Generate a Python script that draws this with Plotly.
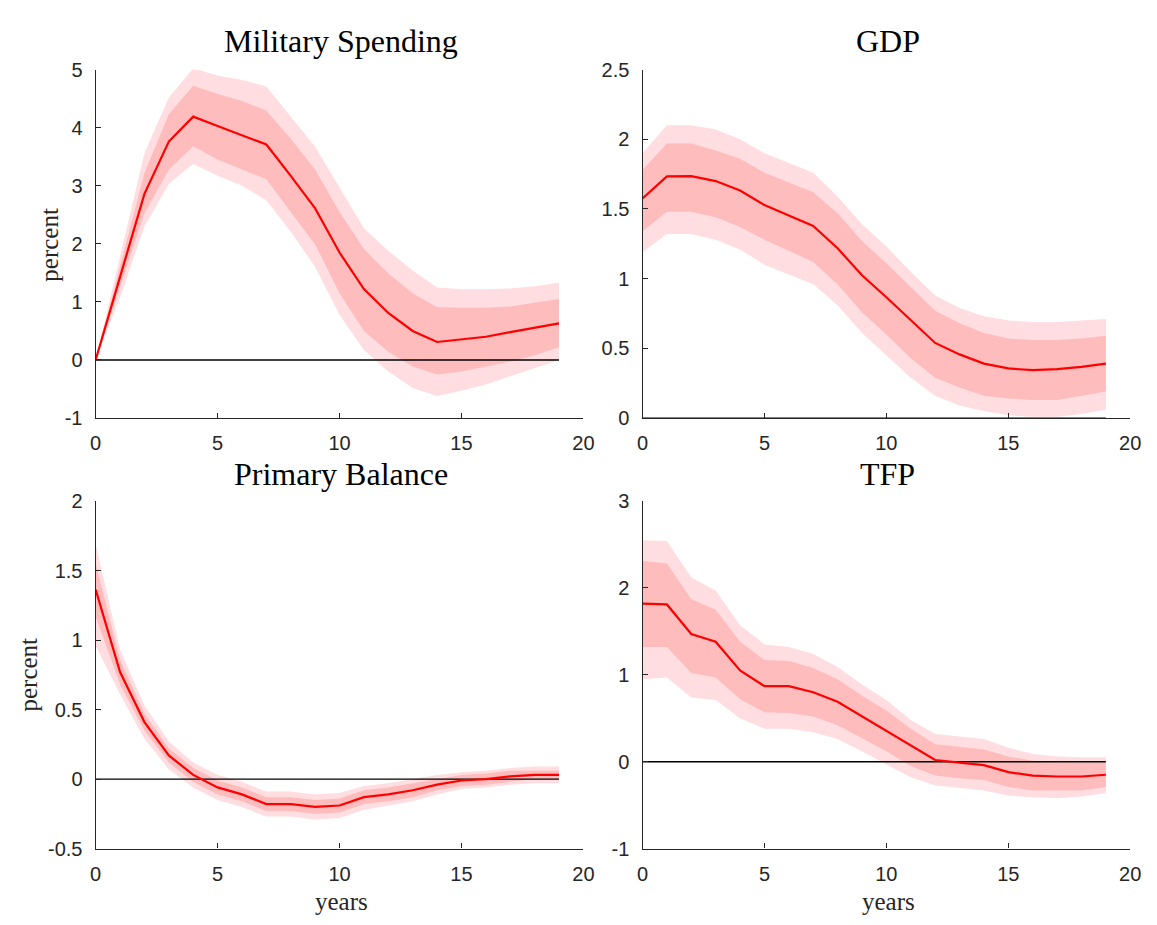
import plotly.graph_objects as go

# ---------------- data ----------------
years = list(range(20))
x_ticks = [0, 5, 10, 15, 20]

# Military Spending
ms_med = [0, 1.43, 2.86, 3.76, 4.19, 4.03, 3.87, 3.71, 3.17, 2.61, 1.85, 1.22, 0.81, 0.50, 0.31, 0.35, 0.40, 0.48, 0.56, 0.63]
ms_in_up = [0, 1.62, 3.22, 4.23, 4.72, 4.58, 4.46, 4.29, 3.81, 3.28, 2.55, 1.91, 1.49, 1.15, 0.91, 0.90, 0.90, 0.92, 0.98, 1.05]
ms_in_lo = [0, 1.25, 2.52, 3.28, 3.68, 3.45, 3.28, 3.11, 2.55, 1.99, 1.15, 0.50, 0.14, -0.11, -0.25, -0.20, -0.11, -0.03, 0.08, 0.22]
ms_out_up = [0, 1.80, 3.56, 4.52, 5.02, 4.90, 4.82, 4.71, 4.20, 3.67, 2.97, 2.27, 1.88, 1.54, 1.25, 1.22, 1.22, 1.23, 1.27, 1.33]
ms_out_lo = [0, 1.08, 2.30, 3.03, 3.38, 3.17, 3.00, 2.75, 2.21, 1.60, 0.78, 0.17, -0.20, -0.48, -0.62, -0.53, -0.42, -0.28, -0.14, 0.00]
ms_yticks = [-1, 0, 1, 2, 3, 4, 5]
ms_yticktext = ["-1", "0", "1", "2", "3", "4", "5"]

# GDP
gdp_med = [1.575, 1.734, 1.736, 1.70, 1.633, 1.528, 1.453, 1.378, 1.218, 1.024, 0.867, 0.703, 0.539, 0.457, 0.391, 0.356, 0.344, 0.351, 0.368, 0.391]
gdp_in_up = [1.78, 1.97, 1.97, 1.92, 1.86, 1.76, 1.69, 1.62, 1.47, 1.27, 1.11, 0.94, 0.77, 0.68, 0.61, 0.57, 0.56, 0.56, 0.57, 0.59]
gdp_in_lo = [1.34, 1.48, 1.48, 1.44, 1.37, 1.28, 1.20, 1.12, 0.96, 0.76, 0.60, 0.43, 0.29, 0.22, 0.16, 0.14, 0.13, 0.13, 0.16, 0.19]
gdp_out_up = [1.90, 2.10, 2.10, 2.07, 2.00, 1.90, 1.83, 1.76, 1.59, 1.39, 1.23, 1.05, 0.88, 0.79, 0.73, 0.70, 0.69, 0.69, 0.70, 0.71]
gdp_out_lo = [1.19, 1.32, 1.32, 1.28, 1.21, 1.10, 1.03, 0.96, 0.81, 0.61, 0.45, 0.29, 0.16, 0.09, 0.05, 0.02, 0.01, 0.01, 0.03, 0.06]
gdp_yticks = [0, 0.5, 1, 1.5, 2, 2.5]
gdp_yticktext = ["0", "0.5", "1", "1.5", "2", "2.5"]

# Primary Balance
pb_med = [1.363, 0.77, 0.41, 0.17, 0.03, -0.06, -0.11, -0.18, -0.18, -0.20, -0.19, -0.13, -0.11, -0.08, -0.04, -0.01, 0.00, 0.02, 0.03, 0.03]
pb_in_up = [1.55, 0.86, 0.47, 0.22, 0.08, -0.01, -0.06, -0.13, -0.13, -0.15, -0.14, -0.08, -0.06, -0.03, 0.00, 0.03, 0.04, 0.06, 0.06, 0.06]
pb_in_lo = [1.17, 0.68, 0.35, 0.12, -0.02, -0.11, -0.16, -0.23, -0.23, -0.25, -0.24, -0.18, -0.16, -0.13, -0.08, -0.05, -0.04, -0.02, 0.00, 0.00]
pb_out_up = [1.69, 0.93, 0.53, 0.27, 0.12, 0.03, -0.02, -0.09, -0.09, -0.11, -0.10, -0.05, -0.03, 0.00, 0.03, 0.05, 0.06, 0.08, 0.09, 0.09]
pb_out_lo = [0.96, 0.61, 0.29, 0.07, -0.06, -0.15, -0.20, -0.27, -0.27, -0.29, -0.28, -0.22, -0.19, -0.16, -0.11, -0.07, -0.06, -0.04, -0.03, -0.03]
pb_yticks = [-0.5, 0, 0.5, 1, 1.5, 2]
pb_yticktext = ["-0.5", "0", "0.5", "1", "1.5", "2"]

# TFP
tfp_med = [1.82, 1.81, 1.47, 1.38, 1.05, 0.87, 0.87, 0.80, 0.69, 0.52, 0.36, 0.18, 0.02, -0.01, -0.04, -0.12, -0.16, -0.17, -0.17, -0.15]
tfp_in_up = [2.31, 2.28, 1.87, 1.75, 1.38, 1.17, 1.16, 1.08, 0.95, 0.76, 0.59, 0.38, 0.20, 0.17, 0.14, 0.06, 0.01, -0.01, -0.01, -0.01]
tfp_in_lo = [1.32, 1.32, 1.02, 0.97, 0.72, 0.57, 0.56, 0.52, 0.42, 0.27, 0.12, -0.05, -0.16, -0.19, -0.21, -0.29, -0.33, -0.33, -0.33, -0.29]
tfp_out_up = [2.55, 2.54, 2.12, 1.97, 1.57, 1.35, 1.32, 1.24, 1.09, 0.89, 0.71, 0.48, 0.32, 0.29, 0.26, 0.16, 0.09, 0.06, 0.05, 0.05]
tfp_out_lo = [0.95, 0.97, 0.74, 0.71, 0.50, 0.38, 0.38, 0.34, 0.26, 0.12, -0.03, -0.18, -0.27, -0.30, -0.33, -0.39, -0.41, -0.42, -0.40, -0.36]
tfp_yticks = [-1, 0, 1, 2, 3]
tfp_yticktext = ["-1", "0", "1", "2", "3"]

zero_line = [0] * len(years)

titles = ["Military Spending", "GDP", "Primary Balance", "TFP"]

# ---------------- figure ----------------
W, H = 1157, 925
OUTER = "rgb(255,221,224)"
INNER = "rgb(255,188,188)"
AX = "#262626"

panels = [
    dict(med=ms_med, iu=ms_in_up, il=ms_in_lo, ou=ms_out_up, ol=ms_out_lo,
         yr=[-1, 5], yt=ms_yticks, ytt=ms_yticktext),
    dict(med=gdp_med, iu=gdp_in_up, il=gdp_in_lo, ou=gdp_out_up, ol=gdp_out_lo,
         yr=[0, 2.5], yt=gdp_yticks, ytt=gdp_yticktext),
    dict(med=pb_med, iu=pb_in_up, il=pb_in_lo, ou=pb_out_up, ol=pb_out_lo,
         yr=[-0.5, 2], yt=pb_yticks, ytt=pb_yticktext),
    dict(med=tfp_med, iu=tfp_in_up, il=tfp_in_lo, ou=tfp_out_up, ol=tfp_out_lo,
         yr=[-1, 3], yt=tfp_yticks, ytt=tfp_yticktext),
]

# pixel boxes (left, right, top, bottom)
boxes = [(91, 586, 60, 417), (646, 1141, 60, 417),
         (91, 586, 502, 858), (646, 1141, 502, 858)]

fig = go.Figure()
layout = dict(width=W, height=H, margin=dict(l=0, r=0, t=0, b=0),
              paper_bgcolor="white", plot_bgcolor="white", showlegend=False)

for i, (p, b) in enumerate(zip(panels, boxes), start=1):
    xa = "x" if i == 1 else f"x{i}"
    ya = "y" if i == 1 else f"y{i}"
    xs = years + years[::-1]
    fig.add_trace(go.Scatter(x=xs, y=p["ou"] + p["ol"][::-1], fill="toself",
                             fillcolor=OUTER, line=dict(width=0), mode="lines",
                             xaxis=xa, yaxis=ya, hoverinfo="skip"))
    fig.add_trace(go.Scatter(x=xs, y=p["iu"] + p["il"][::-1], fill="toself",
                             fillcolor=INNER, line=dict(width=0), mode="lines",
                             xaxis=xa, yaxis=ya, hoverinfo="skip"))
    fig.add_trace(go.Scatter(x=years, y=zero_line, mode="lines",
                             line=dict(color="black", width=1.4),
                             xaxis=xa, yaxis=ya, hoverinfo="skip"))
    fig.add_trace(go.Scatter(x=years, y=p["med"], mode="lines",
                             line=dict(color="#ff0000", width=2.2),
                             xaxis=xa, yaxis=ya))
    l, r, t, bt = b
    xdom = [l / W, r / W]
    ydom = [1 - bt / H, 1 - t / H]
    common = dict(showline=True, linecolor=AX, linewidth=1.3, ticks="inside",
                  ticklen=5, tickwidth=1, tickcolor=AX, showgrid=False,
                  zeroline=False, tickfont=dict(family="Liberation Sans", size=20, color=AX))
    layout["xaxis" if i == 1 else f"xaxis{i}"] = dict(
        domain=xdom, anchor=ya, range=[0, 20], tickmode="array",
        tickvals=x_ticks, ticktext=[str(v) for v in x_ticks],
        ticklabelstandoff=7, **common)
    layout["yaxis" if i == 1 else f"yaxis{i}"] = dict(
        domain=ydom, anchor=xa, range=p["yr"], tickmode="array",
        tickvals=p["yt"], ticktext=p["ytt"], ticklabelstandoff=8, **common)

fig.update_layout(**layout)

serif = "Liberation Serif"
title_pos = [(340, 31), (895, 31), (340, 474), (895, 474)]
for txt, (cx, cy) in zip(titles, title_pos):
    fig.add_annotation(text=txt, x=cx / W, y=1 - cy / H, xref="paper", yref="paper",
                       showarrow=False, xanchor="center", yanchor="middle",
                       font=dict(family=serif, size=32, color="black"))

for (cx, cy) in [(44, 239), (23, 680)]:
    fig.add_annotation(text="percent", x=cx / W, y=1 - cy / H, xref="paper", yref="paper",
                       showarrow=False, xanchor="center", yanchor="middle", textangle=-90,
                       font=dict(family=serif, size=25, color="#262626"))

for (cx, cy) in [(340, 912), (896, 912)]:
    fig.add_annotation(text="years", x=cx / W, y=1 - cy / H, xref="paper", yref="paper",
                       showarrow=False, xanchor="center", yanchor="middle",
                       font=dict(family=serif, size=25, color="#262626"))

fig.write_html("out.html")
